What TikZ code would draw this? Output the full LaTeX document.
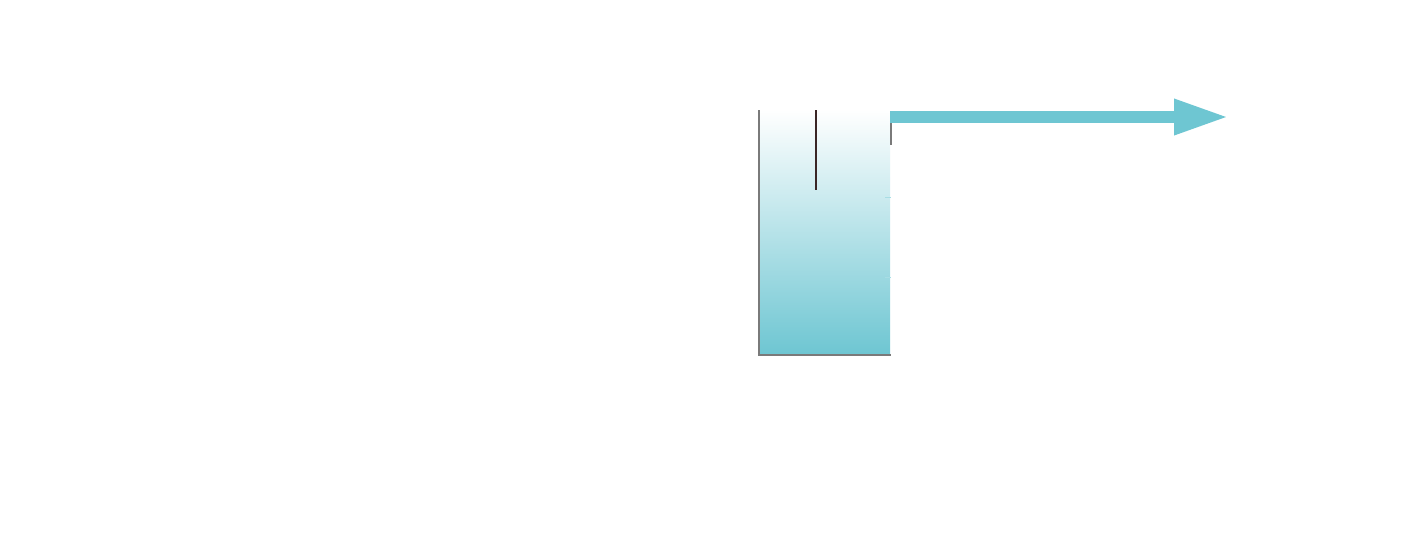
\documentclass[tikz,border=0pt]{standalone}
\usetikzlibrary{arrows.meta}
\definecolor{teal1}{HTML}{6EC6D2}
\definecolor{wallgray}{HTML}{7A7A7A}
\definecolor{rodcol}{HTML}{3A2626}
\tikzset{
  wall/.style={draw=wallgray, line width=1.6pt},
  rod/.style={draw=rodcol, line width=1.4pt},
  flow/.style={draw=teal1, line width=12pt, -{Triangle[length=55pt,width=33pt]}},
}
\begin{document}
\begin{tikzpicture}[x=1pt,y=-1pt]
\useasboundingbox (0,0) rectangle (1408,550);
\fill[white] (0,0) rectangle (1408,550);
% liquid
\shade[top color=white, bottom color=teal1] (760,110) rectangle (890,354);
% faint ticks on right side
\draw[teal1!60, line width=0.8pt] (885,197) -- (891,197);
\draw[teal1!60, line width=0.8pt] (885,277) -- (891,277);
% walls
\coordinate (tl) at (759,110);
\coordinate (bl) at (759,355);
\coordinate (br) at (891,355);
\coordinate (rt) at (891,118);
\coordinate (rb) at (891,145);
\draw[wall] (tl) -- (bl) -- (br);
\draw[wall] (rt) -- (rb);
% rod
\coordinate (rodtop) at (816,110);
\coordinate (rodbot) at (816,190);
\draw[rod] (rodtop) -- (rodbot);
% outflow arrow
\coordinate (outA) at (890,117);
\coordinate (outB) at (1229,117);
\draw[flow] (outA) -- (outB);
\end{tikzpicture}
\end{document}
